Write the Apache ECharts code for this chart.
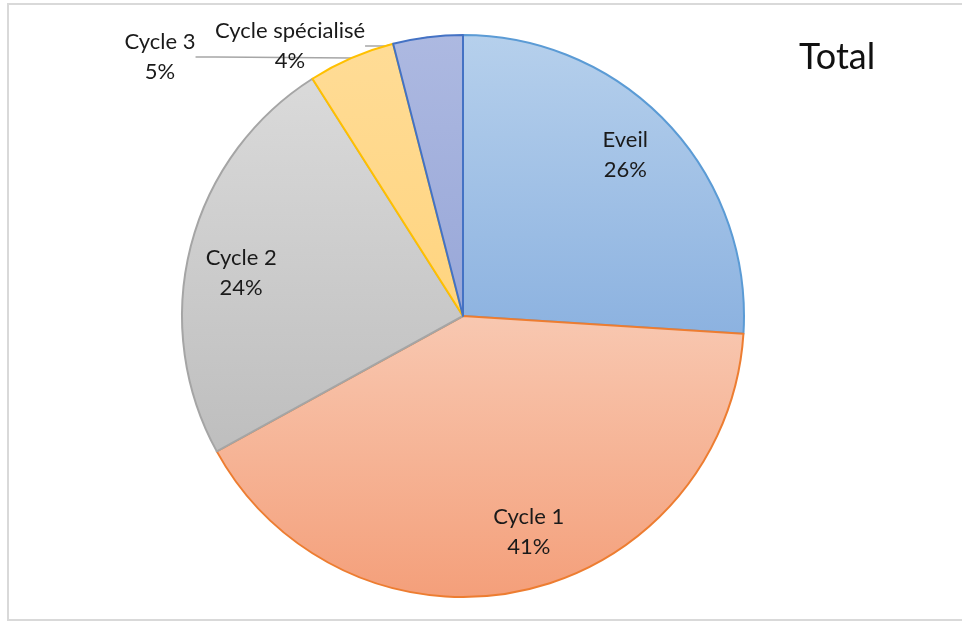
<!DOCTYPE html>
<html>
<head>
<meta charset="utf-8">
<script src="https://cdn.jsdelivr.net/npm/echarts@6/dist/echarts.min.js"></script>
<style>
  html, body { margin: 0; padding: 0; background: #fff; }
  #chart { width: 962px; height: 623px; }
</style>
</head>
<body>
<div id="chart"></div>
<script>
const categories = ["Eveil", "Cycle 1", "Cycle 2", "Cycle 3", "Cycle spécialisé"];
const shares = [26, 41, 24, 5, 4];
const chartTitle = "Total";

const fillTop = ["#b6d0ec", "#f8c8b1", "#dadada", "#ffdc96", "#adb9e1"];
const fillBottom = ["#8cb2e0", "#f49f7a", "#bebebe", "#ffd47f", "#98a7d8"];
const borderColors = ["#5b9bd5", "#ed7d31", "#a5a5a5", "#ffc000", "#4472c4"];

// outside labels only for the two small slices
const outsideLabelPos = { 3: [160, 57], 4: [290, 46] };
// small nudges so the inside labels sit where Excel put them
const insideLabelShift = [[-4, -5], [16, -7], [-1, 14]];

const chart = echarts.init(document.getElementById("chart"));

const fontFamily = "Lato, 'Open Sans', sans-serif";

function gradient(i) {
  return new echarts.graphic.LinearGradient(0, 0, 0, 1, [
    { offset: 0, color: fillTop[i] },
    { offset: 1, color: fillBottom[i] },
  ]);
}

const sliceData = categories.map((name, i) => ({
  name,
  value: shares[i],
  itemStyle: { color: gradient(i), borderColor: borderColors[i], borderWidth: 2 },
  label: { show: i >= 3 },
  labelLine: { show: i >= 3 },
}));

const innerLabelData = categories.map((name, i) => ({
  name,
  value: shares[i],
  label: { show: i < 3 },
}));

chart.setOption({
  backgroundColor: "#ffffff",
  animation: false,
  title: {
    text: chartTitle,
    left: 794,
    top: 34,
    textStyle: { fontFamily, fontSize: 36, fontWeight: "normal", color: "#111" },
  },
  graphic: [
    {
      type: "rect",
      shape: { x: 8, y: 4, width: 970, height: 616 },
      style: { fill: "none", stroke: "#d9d9d9", lineWidth: 2 },
      silent: true,
    },
  ],
  series: [
    {
      type: "pie",
      center: [463, 316],
      radius: [0, 281],
      startAngle: 90,
      clockwise: true,
      avoidLabelOverlap: false,
      label: {
        position: "outside",
        formatter: "{b}\n{c}%",
        fontFamily,
        fontSize: 22,
        lineHeight: 30,
        color: "#1a1a1a",
        align: "center",
      },
      labelLine: {
        length: 20,
        length2: 20,
        lineStyle: { color: "#a6a6a6", width: 1.5 },
      },
      labelLayout: (params) => {
        const pos = outsideLabelPos[params.dataIndex];
        if (!pos) {
          return {};
        }
        return { x: pos[0], y: pos[1], align: "center", verticalAlign: "middle" };
      },
      data: sliceData,
    },
    {
      type: "pie",
      center: [463, 316],
      radius: [169, 281],
      startAngle: 90,
      clockwise: true,
      silent: true,
      itemStyle: { color: "rgba(0,0,0,0)", borderWidth: 0 },
      label: {
        position: "inside",
        formatter: "{b}\n{c}%",
        fontFamily,
        fontSize: 22,
        lineHeight: 30,
        color: "#1a1a1a",
      },
      labelLine: { show: false },
      labelLayout: (params) => {
        const shift = insideLabelShift[params.dataIndex];
        if (!shift) {
          return {};
        }
        return { dx: shift[0], dy: shift[1] };
      },
      data: innerLabelData,
    },
  ],
});
</script>
</body>
</html>
